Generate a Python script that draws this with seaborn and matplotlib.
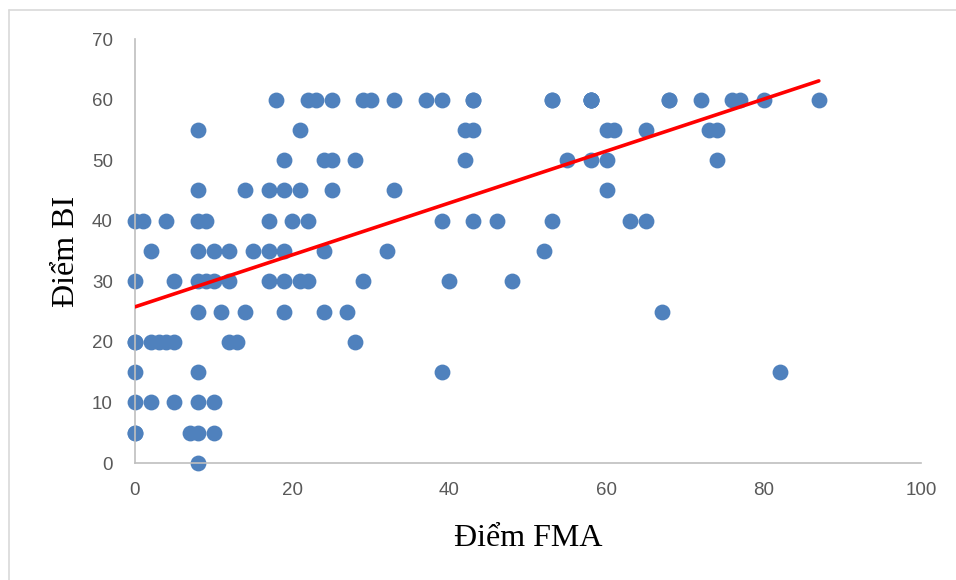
import matplotlib
matplotlib.use("Agg")
import matplotlib.pyplot as plt
from matplotlib.lines import Line2D
import pandas as pd
import seaborn as sns

# FMA score for each patient, grouped by their BI score
# (repeated values are patients sharing the same pair of scores)
fma_60 = [18, 22, 23, 25, 29, 30, 33, 37, 39, 43, 43, 53, 53, 58, 58, 58, 58,
          68, 68, 72, 76, 77, 80, 87]
fma_55 = [8, 21, 42, 43, 60, 61, 65, 73, 74]
fma_50 = [19, 24, 25, 28, 42, 55, 58, 60, 74]
fma_45 = [8, 14, 17, 19, 21, 25, 33, 60]
fma_40 = [0, 1, 4, 8, 9, 17, 20, 22, 39, 43, 46, 53, 63, 65]
fma_35 = [2, 8, 10, 12, 15, 17, 19, 24, 32, 52]
fma_30 = [0, 5, 8, 9, 10, 12, 17, 19, 21, 22, 29, 40, 48]
fma_25 = [8, 11, 14, 19, 24, 27, 67]
fma_20 = [0, 0, 2, 3, 4, 5, 12, 13, 28]
fma_15 = [0, 8, 39, 82]
fma_10 = [0, 2, 5, 8, 10]
fma_5 = [0, 0, 7, 8, 10]
fma_0 = [8]

bi_levels = [60, 55, 50, 45, 40, 35, 30, 25, 20, 15, 10, 5, 0]
fma_groups = [fma_60, fma_55, fma_50, fma_45, fma_40, fma_35, fma_30,
              fma_25, fma_20, fma_15, fma_10, fma_5, fma_0]

x_ticks = [0, 20, 40, 60, 80, 100]
y_ticks = [0, 10, 20, 30, 40, 50, 60, 70]

rows = [(f, bi) for bi, grp in zip(bi_levels, fma_groups) for f in grp]
df = pd.DataFrame(rows, columns=["FMA", "BI"])

sns.set_theme(style="white")
plt.rcParams["font.family"] = ["Liberation Sans", "DejaVu Sans"]

fig = plt.figure(figsize=(9.56, 5.80), dpi=100)
ax = fig.add_axes([135 / 956, 117 / 580, 786 / 956, 424 / 580])

sns.regplot(
    data=df, x="FMA", y="BI", ax=ax, ci=None, truncate=True,
    scatter_kws=dict(s=130, color="#4F81BD", linewidths=0, alpha=1,
                     clip_on=False, zorder=2),
    line_kws=dict(color="#FF0000", linewidth=2.6, zorder=3),
)

ax.set_xlim(0, 100)
ax.set_ylim(0, 70)
ax.set_xticks(x_ticks)
ax.set_yticks(y_ticks)

for side in ("top", "right"):
    ax.spines[side].set_visible(False)
for side in ("left", "bottom"):
    ax.spines[side].set_color("#BFBFBF")
    ax.spines[side].set_linewidth(1.2)

ax.tick_params(axis="both", length=0, labelsize=13.5, labelcolor="#595959")
ax.tick_params(axis="x", pad=14)
ax.tick_params(axis="y", pad=16)

ax.set_xlabel("Điểm FMA", fontsize=23, family="Liberation Serif",
              color="black", labelpad=18)
ax.set_ylabel("Điểm BI", fontsize=23, family="Liberation Serif",
              color="black", labelpad=8)

# thin chart-area border
fig.add_artist(Line2D([9 / 956, 1.0], [1 - 10 / 580, 1 - 10 / 580],
                      transform=fig.transFigure, color="#D9D9D9", linewidth=1.2))
fig.add_artist(Line2D([9 / 956, 9 / 956], [0.0, 1 - 10 / 580],
                      transform=fig.transFigure, color="#D9D9D9", linewidth=1.2))

fig.savefig("out.png", dpi=100, facecolor="white")
